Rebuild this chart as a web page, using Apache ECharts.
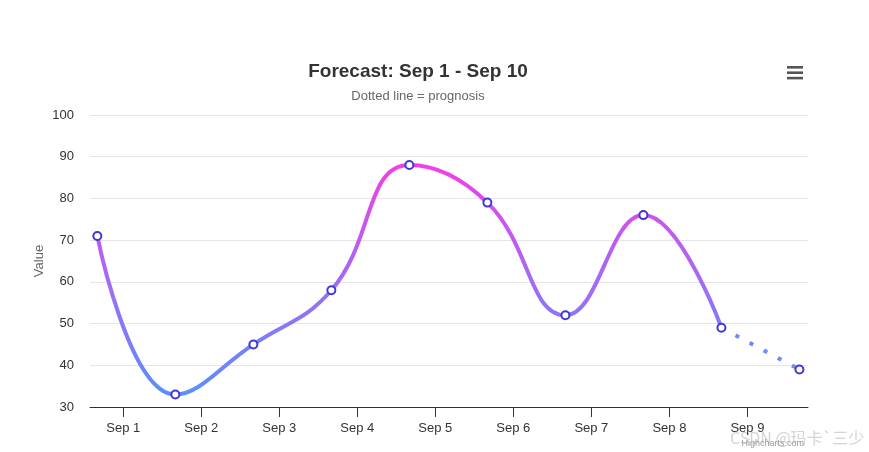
<!DOCTYPE html>
<html>
<head>
<meta charset="utf-8">
<script src="https://cdn.jsdelivr.net/npm/echarts@6/dist/echarts.min.js"></script>
<style>
html,body{margin:0;padding:0;background:#fff;}
#chart{width:869px;height:452px;}
</style>
</head>
<body>
<div id="chart"></div>
<script>
// ---- data ----
const titleText = 'Forecast: Sep 1 - Sep 10';
const subtitleText = 'Dotted line = prognosis';
const yAxisTitle = 'Value';
// x position of each point, in days from the "Sep 1" tick
const pointDays = [-0.333, 0.667, 1.667, 2.667, 3.667, 4.667, 5.667, 6.667, 7.667, 8.667];
const values = [71, 33, 45, 58, 88, 79, 52, 76, 49, 39];
const actualCount = 9;          // first 9 points are measured, the rest is prognosis
const tickDays = [0, 1, 2, 3, 4, 5, 6, 7, 8];
const tickLabels = ['Sep 1', 'Sep 2', 'Sep 3', 'Sep 4', 'Sep 5', 'Sep 6', 'Sep 7', 'Sep 8', 'Sep 9'];
const yTicks = [30, 40, 50, 60, 70, 80, 90, 100];

const pairs = pointDays.map((d, i) => [d, values[i]]);
const actual = pairs.slice(0, actualCount);
const forecast = pairs.slice(actualCount - 1);

const FONT = 'Liberation Sans, Arial, Helvetica, sans-serif';
const chart = echarts.init(document.getElementById('chart'), null, {renderer: 'canvas'});
chart.setOption({
  animation: false,
  backgroundColor: '#ffffff',
  title: [
    {text: titleText, left: 413, textAlign: 'center', top: 57,
     textStyle: {fontFamily: FONT, fontSize: 19, fontWeight: 'bold', color: '#333333'}},
    {text: subtitleText, left: 413, textAlign: 'center', top: 85,
     textStyle: {fontFamily: FONT, fontSize: 13, fontWeight: 'normal', color: '#666666'}}
  ],
  grid: {left: 90, right: 61, top: 115, bottom: 45, containLabel: false},
  xAxis: {
    type: 'value',
    min: -0.427, max: 8.777,
    splitLine: {show: false},
    axisLine: {show: true, lineStyle: {color: '#333333', width: 1}},
    axisTick: {show: true, length: 10, lineStyle: {color: '#333333'}, customValues: tickDays},
    axisLabel: {
      customValues: tickDays, margin: 15,
      fontFamily: FONT, fontSize: 13, color: '#333333',
      formatter: v => tickLabels[tickDays.indexOf(Math.round(v))] || ''
    }
  },
  yAxis: {
    type: 'value',
    min: yTicks[0], max: yTicks[yTicks.length - 1], interval: 10,
    name: yAxisTitle, nameLocation: 'middle', nameGap: 44, nameRotate: 90,
    nameMoveOverlap: false,
    nameTextStyle: {fontFamily: FONT, fontSize: 13, color: '#666666'},
    axisLine: {show: false}, axisTick: {show: false},
    axisLabel: {fontFamily: FONT, fontSize: 13, color: '#333333', margin: 16},
    splitLine: {lineStyle: {color: '#e6e6e6', width: 1}}
  },
  visualMap: {
    type: 'continuous', show: false, seriesIndex: 0, dimension: 1,
    min: 33, max: 88,
    inRange: {color: ['#5b8ff9', '#a46af5', '#f23fe6']}
  },
  series: [
    {
      type: 'line', data: actual, smooth: 0.45, showSymbol: false,
      lineStyle: {width: 4, cap: 'round'}, z: 2
    },
    {
      type: 'line', data: forecast, showSymbol: false,
      lineStyle: {width: 4, color: '#6d8af8', type: [4, 12], cap: 'butt'}, z: 2
    },
    {
      type: 'scatter', data: pairs, symbol: 'circle', symbolSize: 8,
      itemStyle: {color: '#ffffff', borderColor: '#4137d8', borderWidth: 2, opacity: 1},
      z: 5
    }
  ],
  graphic: [
    {type: 'group', left: 787, top: 66, children: [
      {type: 'rect', shape: {x: 0, y: 0, width: 16, height: 2.6}, style: {fill: '#555555'}},
      {type: 'rect', shape: {x: 0, y: 5.4, width: 16, height: 2.6}, style: {fill: '#555555'}},
      {type: 'rect', shape: {x: 0, y: 10.8, width: 16, height: 2.6}, style: {fill: '#555555'}}
    ]},
    {type: 'text', right: 65, top: 439, style: {text: 'Highcharts.com', fontFamily: FONT, fontSize: 9, fill: '#999999'}},
    {type: 'text', left: 730, top: 430, style: {text: 'CSDN @玛卡`三少', fontFamily: 'Noto Sans CJK SC, sans-serif', fontSize: 16, fill: 'rgba(170,170,170,0.5)'}}
  ]
});
</script>
</body>
</html>
